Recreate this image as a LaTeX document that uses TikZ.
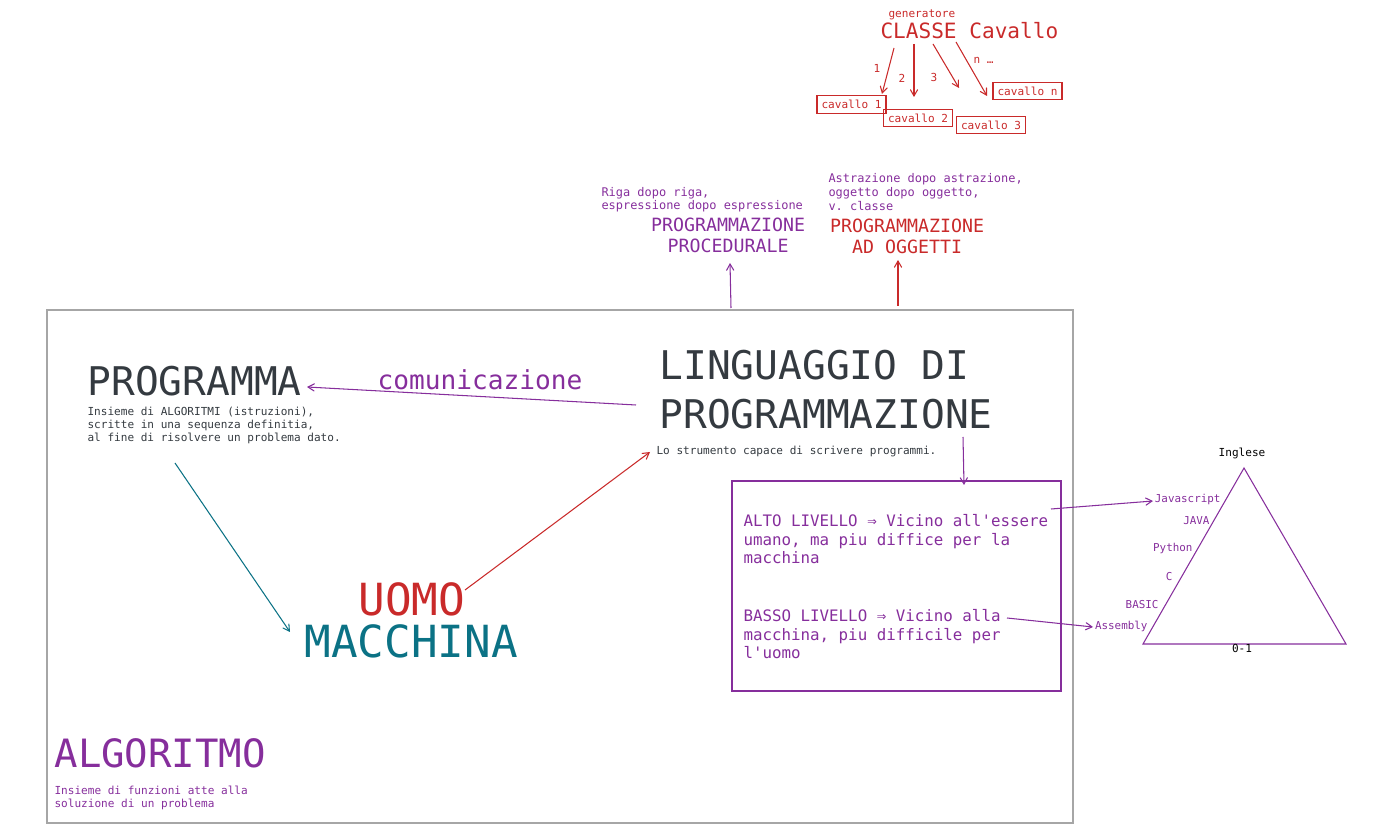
\documentclass[tikz,border=0pt]{standalone}
\usepackage{fontspec}
\setmonofont{DejaVu Sans Mono}
\usepackage{tikz}
\usetikzlibrary{arrows,shapes}
\definecolor{grape}{HTML}{862E9C}
\definecolor{rosso}{HTML}{C92A2A}
\definecolor{ottanio}{HTML}{0B7285}
\definecolor{ardesia}{HTML}{343A40}

\begin{document}
\begin{tikzpicture}[->,>=angle 60,x=0.02cm,y=-0.02cm,semithick]
  \tikzstyle{testo}=[inner sep=0pt,anchor=base west,align=left,font=\ttfamily]
  \tikzstyle{titolo}=[testo,text=ardesia,
                                    font=\ttfamily\fontsize{22.5}{28.3}\selectfont]
  \tikzstyle{nota}=[testo,text=ardesia,
                                    font=\ttfamily\fontsize{6.3}{7.6}\selectfont]
  \tikzstyle{nota_viola}=[testo,text=grape,
                                    font=\ttfamily\fontsize{6.8}{7.6}\selectfont]
  \tikzstyle{paradigma}=[inner sep=0pt,anchor=base,align=center,
                                    font=\ttfamily\fontsize{10.4}{12.5}\selectfont]
  \tikzstyle{livello}=[testo,text=grape,
                                    font=\ttfamily\fontsize{9}{10.7}\selectfont]
  \tikzstyle{lingua}=[inner sep=0pt,anchor=base east,text=grape,
                                    font=\ttfamily\fontsize{6.2}{7}\selectfont]
  \tikzstyle{cavallo_box}=[rectangle,draw=rosso,text=rosso,
                                    inner sep=0pt,
                                    minimum width=1.38cm,
                                    minimum height=0.35cm,
                                    font=\ttfamily\fontsize{6.3}{7}\selectfont]
  \tikzstyle{numero}=[inner sep=0pt,text=rosso,
                                    font=\ttfamily\fontsize{6.3}{7}\selectfont]
  \path[use as bounding box] (0,0) rectangle (1376,830);
  %Cornice
  \draw[-,gray!70,line width=0.7pt] (47,310) rectangle (1073,823);
  %Programma (le note su piu righe: la base e' l'ultima riga)
  \node[titolo] (PRG) at (87,396) {PROGRAMMA};
  \node[nota] (PRGd) at (87,442) {Insieme di ALGORITMI (istruzioni),\\scritte in una sequenza definitia,\\al fine di risolvere un problema dato.};
  \node[testo,text=grape,font=\ttfamily\fontsize{14.9}{16}\selectfont] (COM) at (377,390) {comunicazione};
  %Linguaggio
  \node[titolo] (LIN) at (659,429) {LINGUAGGIO DI\\PROGRAMMAZIONE};
  \node[nota] (LINd) at (656,455) {Lo strumento capace di scrivere programmi.};
  %Uomo macchina
  \node[testo,text=rosso,font=\ttfamily\fontsize{25.2}{28}\selectfont] (UOMO) at (358,616) {UOMO};
  \node[testo,text=ottanio,font=\ttfamily\fontsize{25.2}{28}\selectfont] (MAC) at (304,658) {MACCHINA};
  %Algoritmo
  \node[testo,text=grape,font=\ttfamily\fontsize{22.2}{26}\selectfont] (ALG) at (54,767) {ALGORITMO};
  \node[nota,text=grape,font=\ttfamily\fontsize{6.3}{7.4}\selectfont] (ALGd) at (54,807) {Insieme di funzioni atte alla\\soluzione di un problema};
  %Paradigmi
  \node[nota_viola] (PROCd) at (601,210) {Riga dopo riga,\\espressione dopo espressione};
  \node[paradigma,text=grape] (PROC) at (728,253) {PROGRAMMAZIONE\\PROCEDURALE};
  \node[nota_viola,font=\ttfamily\fontsize{6.8}{8.2}\selectfont] (OGGd) at (828,211) {Astrazione dopo astrazione,\\oggetto dopo oggetto,\\v. classe};
  \node[paradigma,text=rosso] (OGG) at (907,254) {PROGRAMMAZIONE\\AD OGGETTI};
  %Classe
  \node[numero,anchor=base west] (GEN) at (888,18) {generatore};
  \node[testo,text=rosso,font=\ttfamily\fontsize{12}{14}\selectfont] (CLS) at (880,39) {CLASSE Cavallo};
  \node[cavallo_box] (C1) at (851.5,104.5) {cavallo 1};
  \node[cavallo_box] (C2) at (918,118) {cavallo 2};
  \node[cavallo_box] (C3) at (991,125) {cavallo 3};
  \node[cavallo_box] (Cn) at (1027.5,91) {cavallo n};
  \node[numero] (N1) at (877,68) {1};
  \node[numero] (N2) at (902,78) {2};
  \node[numero] (N3) at (934,77) {3};
  \node[numero,anchor=base west] (Nn) at (973,64) {n …};
  %Livelli
  \draw[-,grape] (732,481) rectangle (1061,691);
  \node[livello] (ALTO) at (743,564) {ALTO LIVELLO ⇒ Vicino all'essere\\umano, ma piu diffice per la\\macchina};
  \node[livello] (BASSO) at (743,659) {BASSO LIVELLO ⇒ Vicino alla\\macchina, piu difficile per\\l'uomo};
  %Triangolo
  \draw[-,grape] (1244,468) -- (1143,644) -- (1346,644) -- cycle;
  \node[nota,anchor=base,text=black] (ING) at (1242,457) {Inglese};
  \node[nota,anchor=base,text=black] (BIN) at (1242,653) {0-1};
  \node[lingua] (JS) at (1221,503) {Javascript};
  \node[lingua] (JAVA) at (1210,525) {JAVA};
  \node[lingua] (PY) at (1193,552) {Python};
  \node[lingua] (C) at (1173,581) {C};
  \node[lingua] (BAS) at (1159,609) {BASIC};
  \node[lingua] (ASM) at (1148,630) {Assembly};
  %Estremi
  \coordinate (a1) at (636,405);  \coordinate (b1) at (307,387);
  \coordinate (a2) at (175,463);  \coordinate (b2) at (290,632);
  \coordinate (a3) at (465,590);  \coordinate (b3) at (650,452);
  \coordinate (a4) at (731,308);  \coordinate (b4) at (730,263);
  \coordinate (a5) at (898,306);  \coordinate (b5) at (898,260);
  \coordinate (a6) at (963,437);  \coordinate (b6) at (964,485);
  \coordinate (a7) at (1051,509); \coordinate (b7) at (1153,501);
  \coordinate (a8) at (1007,618); \coordinate (b8) at (1093,627);
  \coordinate (k1) at (894,48);   \coordinate (h1) at (882,94);
  \coordinate (k2) at (914,44);   \coordinate (h2) at (914,97);
  \coordinate (k3) at (933,44);   \coordinate (h3) at (959,88);
  \coordinate (k4) at (956,42);   \coordinate (h4) at (987,96);

  \path[grape] (a1) edge node {} (b1)
        (a4) edge node {} (b4)
        (a6) edge node {} (b6)
        (a7) edge node {} (b7)
        (a8) edge node {} (b8);
  \path[ottanio] (a2) edge node {} (b2);
  \path[rosso] (a3) edge node {} (b3)
        (a5) edge node {} (b5)
        (k1) edge node {} (h1)
        (k2) edge node {} (h2)
        (k3) edge node {} (h3)
        (k4) edge node {} (h4);
\end{tikzpicture}
\end{document}
